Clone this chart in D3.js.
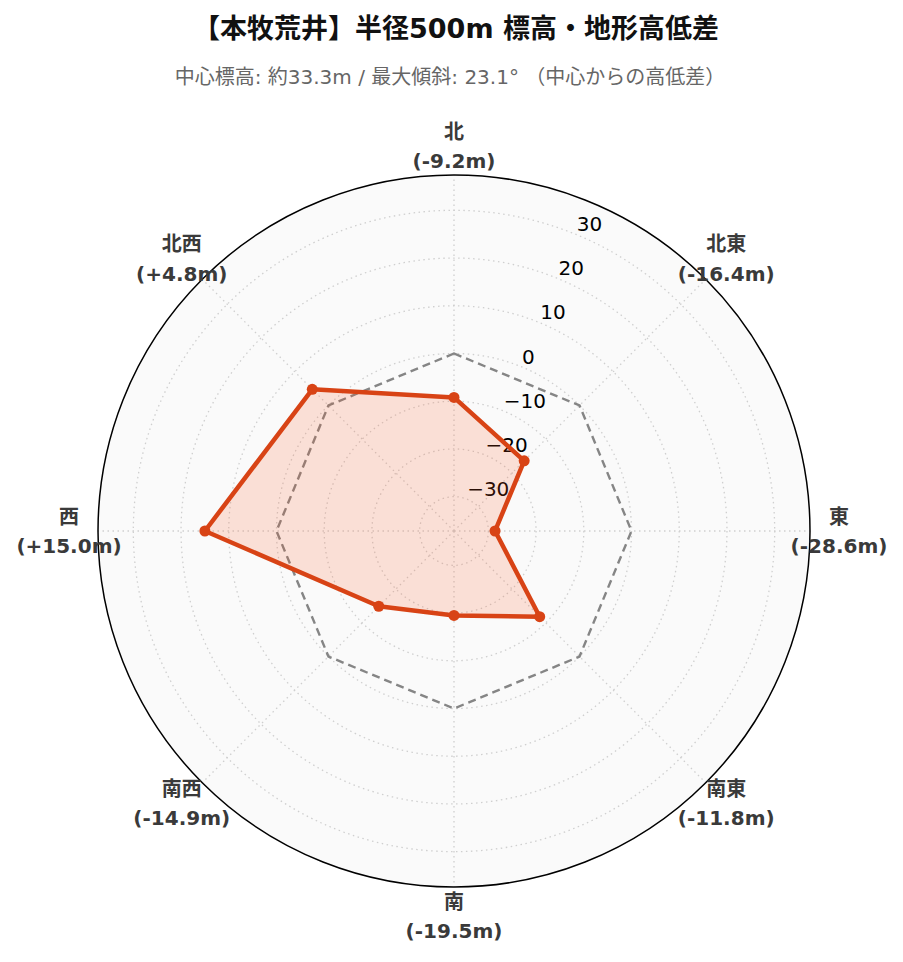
<!DOCTYPE html>
<html><head><meta charset="utf-8">
<script src="https://cdn.jsdelivr.net/npm/d3@7"></script>
<style>body{margin:0;background:#fff}svg{display:block}</style>
</head><body>
<svg id="chart" width="903" height="962"></svg>
<script>
// ---- data ----
const directions = ["北", "北東", "東", "南東", "南", "南西", "西", "北西"];
const heightDiff = [-9.2, -16.4, -28.6, -11.8, -19.5, -14.9, 15.0, 4.8];
const referenceLevel = [0, 0, 0, 0, 0, 0, 0, 0];
const radialTicks = [-30, -20, -10, 0, 10, 20, 30];
const radialDomain = [-37.2, 37.4];
const titleText = "【本牧荒井】半径500m 標高・地形高低差";
const subtitleText = "中心標高: 約33.3m / 最大傾斜: 23.1° （中心からの高低差）";

// ---- layout ----
const cx = 454, cy = 531, R = 356;
const FONT = "'DejaVu Sans', 'Noto Sans CJK JP', sans-serif";
const svg = d3.select("#chart");

const r = d3.scaleLinear().domain(radialDomain).range([0, R]);
const angle = d3.scaleLinear().domain([0, directions.length]).range([0, 2 * Math.PI]);

// title
svg.append("text").attr("x", 456).attr("y", 38).attr("text-anchor", "middle")
  .attr("font-family", FONT).attr("font-weight", "bold").attr("font-size", 27)
  .attr("fill", "#111").text(titleText);
svg.append("text").attr("x", 450).attr("y", 84).attr("text-anchor", "middle")
  .attr("font-family", FONT).attr("font-size", 20)
  .attr("fill", "#666").text(subtitleText);

const g = svg.append("g").attr("transform", `translate(${cx},${cy})`);

// background
g.append("circle").attr("r", R).attr("fill", "#fafafa");

// grid circles
g.selectAll("circle.grid").data(radialTicks).join("circle")
  .attr("class", "grid").attr("r", d => r(d))
  .attr("fill", "none").attr("stroke", "#cfcfcf").attr("stroke-width", 1.3)
  .attr("stroke-dasharray", "1.5,3.5");

// spokes
g.selectAll("line.spoke").data(directions).join("line")
  .attr("class", "spoke")
  .attr("x1", 0).attr("y1", 0)
  .attr("x2", (d, i) => R * Math.sin(angle(i)))
  .attr("y2", (d, i) => -R * Math.cos(angle(i)))
  .attr("stroke", "#cfcfcf").attr("stroke-width", 1.3)
  .attr("stroke-dasharray", "1.5,3.5");

// outer spine
g.append("circle").attr("r", R).attr("fill", "none").attr("stroke", "#000").attr("stroke-width", 1.5);

// radial tick labels at 22.5°
const tickAngle = Math.PI / 8;
const fmt = d3.format("d");
g.selectAll("text.rtick").data(radialTicks).join("text")
  .attr("class", "rtick")
  .attr("x", d => r(d) * Math.sin(tickAngle))
  .attr("y", d => -r(d) * Math.cos(tickAngle) - 3.5)
  .attr("font-family", FONT).attr("font-size", 20).attr("fill", "#000")
  .text(d => fmt(d));

// reference (0) dashed line
const radial = d3.lineRadial().angle((d, i) => angle(i)).radius(d => r(d)).curve(d3.curveLinearClosed);
g.append("path").datum(referenceLevel).attr("d", radial)
  .attr("fill", "none").attr("stroke", "#858585").attr("stroke-width", 2.4)
  .attr("stroke-dasharray", "8,5");

// data polygon
g.append("path").datum(heightDiff).attr("d", radial)
  .attr("fill", "rgba(255,87,34,0.16)").attr("stroke", "#D84315")
  .attr("stroke-width", 4.5).attr("stroke-linejoin", "round");

g.selectAll("circle.pt").data(heightDiff).join("circle")
  .attr("class", "pt")
  .attr("cx", (d, i) => r(d) * Math.sin(angle(i)))
  .attr("cy", (d, i) => -r(d) * Math.cos(angle(i)))
  .attr("r", 5.5).attr("fill", "#D84315");

// direction labels
const labR = 385;
const lab = g.selectAll("g.lab").data(directions).join("g").attr("class", "lab")
  .attr("transform", (d, i) => `translate(${labR * Math.sin(angle(i))},${-labR * Math.cos(angle(i))})`);
lab.append("text").attr("y", -7.5).attr("text-anchor", "middle")
  .attr("font-family", FONT).attr("font-weight", "bold").attr("font-size", 20).attr("fill", "#3a3a3a")
  .text(d => d);
lab.append("text").attr("y", 22).attr("text-anchor", "middle")
  .attr("font-family", FONT).attr("font-weight", "bold").attr("font-size", 20).attr("fill", "#3a3a3a")
  .text((d, i) => `(${heightDiff[i] > 0 ? "+" : ""}${heightDiff[i].toFixed(1)}m)`);
</script>
</body></html>
